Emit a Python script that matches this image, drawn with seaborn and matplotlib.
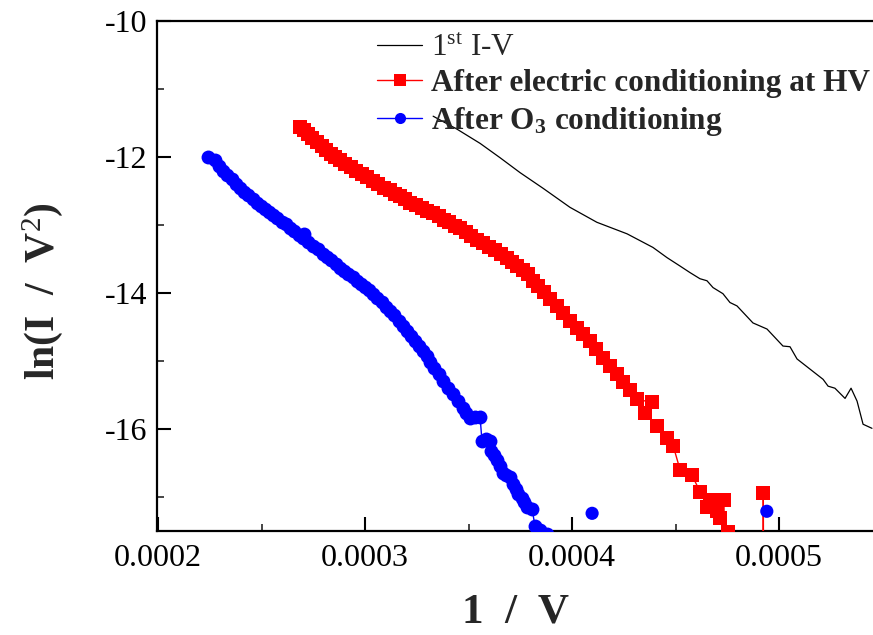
import matplotlib
matplotlib.use("Agg")
import matplotlib.pyplot as plt
import seaborn as sns
from matplotlib.ticker import MultipleLocator, FuncFormatter
from matplotlib.lines import Line2D

# ---------------- data (x in units of 1e-6 1/V) ----------------
first_iv_x = [332.9, 344.4, 355.6, 365.2, 374.9, 386.0, 399.0, 412.0, 426.6, 439.1,
              445.9, 452.0, 457.0, 461.8, 465.2, 468.1, 472.9, 476.3, 479.7, 487.4,
              494.2, 501.9, 505.3, 508.7, 515.0, 521.3, 523.7, 527.0, 531.9, 534.8,
              537.7, 540.6, 544.9]
first_iv_y = [-11.40, -11.59, -11.80, -12.01, -12.23, -12.46, -12.74, -12.96, -13.13, -13.33,
              -13.48, -13.60, -13.70, -13.79, -13.82, -13.92, -14.01, -14.14, -14.19, -14.44,
              -14.53, -14.78, -14.79, -14.97, -15.12, -15.27, -15.37, -15.40, -15.55, -15.40,
              -15.59, -15.93, -15.99]

hv_x = [268.6, 270.5, 272.5, 274.5, 276.8, 279.0, 281.2, 283.5, 285.7, 287.9,
        290.5, 293.0, 295.7, 298.3, 301.0, 303.8, 306.5, 309.3, 312.1, 314.5,
        317.0, 319.3, 321.7, 324.5, 327.3, 330.1, 332.9, 335.5, 338.1, 340.7,
        343.3, 345.9, 348.7, 351.4, 354.2, 357.0, 359.9, 362.8, 365.7, 368.6,
        371.1, 373.6, 376.1, 378.6, 381.2, 383.8, 386.5, 389.4, 392.5, 395.7,
        399.0, 402.4, 405.5, 408.7, 411.8, 415.0, 418.3, 421.7, 424.8, 428.0,
        431.3, 438.5, 435.3, 440.9, 445.7, 448.9, 452.2, 457.8, 461.8, 466.7,
        465.0, 469.9, 471.5, 473.4, 473.8, 475.5, 478.0, 492.2, 492.4, 492.6]
hv_y = [-11.56, -11.61, -11.66, -11.72, -11.78, -11.84, -11.90, -11.95, -12.00, -12.05,
        -12.10, -12.15, -12.20, -12.25, -12.30, -12.35, -12.40, -12.45, -12.49, -12.54,
        -12.58, -12.62, -12.67, -12.71, -12.75, -12.79, -12.83, -12.87, -12.92, -12.96,
        -13.01, -13.05, -13.11, -13.16, -13.22, -13.27, -13.32, -13.37, -13.43, -13.48,
        -13.54, -13.60, -13.66, -13.72, -13.82, -13.90, -13.99, -14.09, -14.19, -14.30,
        -14.41, -14.51, -14.60, -14.70, -14.82, -14.95, -15.07, -15.19, -15.31, -15.43,
        -15.56, -15.61, -15.76, -15.96, -16.13, -16.25, -16.60, -16.67, -16.92, -17.04,
        -17.14, -17.21, -17.31, -17.04, -18.50, -17.51, -19.00, -19.00, -16.94, -19.00]

o3_x = [224.2, 227.5, 229.5, 231.4, 233.5, 235.5, 237.6, 239.6, 241.6, 243.7,
        245.7, 247.8, 249.8, 251.7, 253.7, 255.6, 257.6, 259.7, 261.7, 263.8,
        265.8, 267.9, 270.0, 270.5, 272.4, 274.8, 277.3, 279.7, 281.8, 283.8,
        285.9, 287.9, 289.9, 292.0, 294.0, 296.1, 298.0, 300.0, 302.0, 303.9,
        306.0, 308.0, 310.1, 312.1, 314.2, 316.2, 318.3, 320.3, 322.2, 324.1,
        326.1, 328.0, 329.8, 331.6, 333.5, 335.6, 337.7, 340.1, 342.5, 344.9,
        347.3, 349.0, 350.7, 353.0, 355.6, 356.5, 358.5, 360.4, 360.8, 362.3,
        363.8, 365.2, 366.7, 368.3, 370.0, 371.5, 372.8, 374.0, 375.8, 377.0,
        378.3, 380.7, 382.1, 384.5, 387.8, 391.0]
o3_y = [-12.00, -12.04, -12.13, -12.20, -12.26, -12.32, -12.39, -12.45, -12.51, -12.56,
        -12.62, -12.67, -12.72, -12.77, -12.81, -12.86, -12.90, -12.95, -12.99, -13.04,
        -13.09, -13.14, -13.19, -13.13, -13.25, -13.31, -13.36, -13.42, -13.47, -13.52,
        -13.58, -13.63, -13.68, -13.72, -13.77, -13.82, -13.87, -13.91, -13.96, -14.01,
        -14.07, -14.13, -14.20, -14.26, -14.33, -14.41, -14.48, -14.56, -14.63, -14.70,
        -14.78, -14.85, -14.93, -15.01, -15.10, -15.19, -15.29, -15.39, -15.49, -15.59,
        -15.69, -15.76, -15.84, -15.82, -15.83, -16.18, -16.15, -16.18, -16.33, -16.38,
        -16.45, -16.55, -16.65, -16.67, -16.70, -16.81, -16.88, -16.95, -17.02, -17.08,
        -17.14, -17.17, -17.43, -17.48, -17.54, -18.50]

o3_iso_x = [409.7, 494.1]
o3_iso_y = [-17.24, -17.21]

labels = [r"1$^{\mathrm{st}}$ I-V",
          "After electric conditioning at HV",
          r"After O$_{\mathbf{3}}$ conditioning"]

# scale to 1/V
S = 1e-6
first_iv_xs = [v * S for v in first_iv_x]
hv_xs = [v * S for v in hv_x]
o3_xs = [v * S for v in o3_x]
o3_iso_xs = [v * S for v in o3_iso_x]

# ---------------- style ----------------
sns.set_theme(style="ticks")
plt.rcParams["font.family"] = ["Liberation Serif", "DejaVu Serif"]
plt.rcParams["mathtext.fontset"] = "custom"
plt.rcParams["mathtext.rm"] = "Liberation Serif"
plt.rcParams["mathtext.bf"] = "Liberation Serif:bold"
plt.rcParams["mathtext.it"] = "Liberation Serif:italic"
plt.rcParams["axes.unicode_minus"] = False

fig = plt.figure(figsize=(8.73, 6.35), dpi=100)
fig.patch.set_facecolor("white")
ax = fig.add_axes([157 / 873, 1 - 531 / 635, 1 - 157 / 873, (531 - 21) / 635])
ax.set_facecolor("white")

RED = "#ff0000"
BLUE = "#0000ff"

sns.lineplot(x=first_iv_xs, y=first_iv_y, color="black", linewidth=0.9,
             sort=False, estimator=None, ax=ax, zorder=2)
sns.lineplot(x=hv_xs, y=hv_y, color=RED, linewidth=1.0, marker="s", markersize=10,
             markeredgewidth=0, sort=False, estimator=None, ax=ax, zorder=3)
sns.lineplot(x=o3_xs, y=o3_y, color=BLUE, linewidth=1.0, marker="o", markersize=10,
             markeredgewidth=0, sort=False, estimator=None, ax=ax, zorder=4)
sns.scatterplot(x=o3_iso_xs, y=o3_iso_y, color=BLUE, s=90, marker="o",
                edgecolor="none", ax=ax, zorder=4, legend=False)

ax.set_xlim(0.0001995, 0.0005454)
ax.set_ylim(-17.5, -10)

ax.xaxis.set_major_locator(MultipleLocator(0.0001))
ax.xaxis.set_minor_locator(MultipleLocator(0.00005))
ax.yaxis.set_major_locator(MultipleLocator(2))
ax.yaxis.set_minor_locator(MultipleLocator(1))
ax.xaxis.set_major_formatter(FuncFormatter(lambda v, p: f"{v:.4f}"))
ax.yaxis.set_major_formatter(FuncFormatter(lambda v, p: f"{v:.0f}"))

for side in ["left", "bottom", "top"]:
    ax.spines[side].set_linewidth(1.6)
    ax.spines[side].set_color("black")
ax.spines["right"].set_visible(False)

ax.tick_params(axis="both", which="major", direction="in", length=10, width=1.5,
               labelsize=23, colors="black")
ax.tick_params(axis="both", which="minor", direction="in", length=5, width=1.2)
ax.tick_params(axis="x", which="both", pad=9, top=False)
ax.tick_params(axis="y", which="both", pad=7, right=False)

ax.set_xlabel("1  /  V", fontsize=31, fontweight="bold")
ax.set_ylabel(r"ln(I  /  V$^{2}$)", fontsize=30, fontweight="bold")
ax.yaxis.set_label_coords(-0.128, 0.47)
ax.xaxis.set_label_coords(0.5, -0.122)

handles = [
    Line2D([], [], color="black", linewidth=0.9),
    Line2D([], [], color=RED, linewidth=1.0, marker="s", markersize=8, markeredgewidth=0),
    Line2D([], [], color=BLUE, linewidth=1.0, marker="o", markersize=8, markeredgewidth=0),
]
leg = ax.legend(handles, labels, loc="upper left", bbox_to_anchor=(377 / 873, 1 - 34 / 635),
                bbox_transform=fig.transFigure, frameon=False, handlelength=1.45,
                handletextpad=0.28, labelspacing=0.2, borderpad=0, borderaxespad=0,
                prop={"family": "Liberation Serif", "weight": "bold", "size": 22.5})
leg.get_texts()[0].set_fontweight("normal")
leg.set_zorder(10)

fig.savefig("out.png", dpi=100, facecolor="white")
